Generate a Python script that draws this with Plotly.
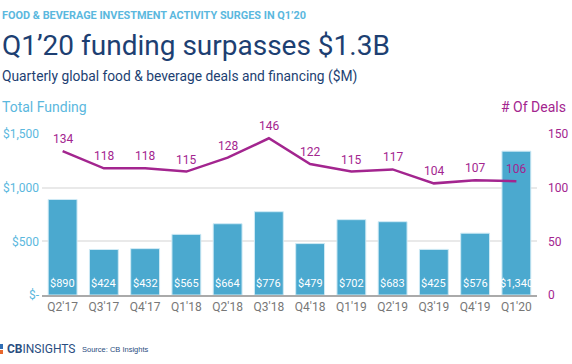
import plotly.graph_objects as go

quarters = ["Q2'17", "Q3'17", "Q4'17", "Q1'18", "Q2'18", "Q3'18",
            "Q4'18", "Q1'19", "Q2'19", "Q3'19", "Q4'19", "Q1'20"]
funding = [890, 424, 432, 565, 664, 776, 479, 702, 683, 425, 576, 1340]
deals = [134, 118, 118, 115, 128, 146, 122, 115, 117, 104, 107, 106]
left_ticks = [0, 500, 1000, 1500]
left_tick_text = ["$-", "$500", "$1,000", "$1,500"]
right_ticks = [0, 50, 100, 150]

W, H = 572, 364
L, R, T, B = 42, 35, 134, 69
PW = W - L - R
PH = H - T - B

def px(x):
    return (x - L) / PW

def py(y):
    return (H - B - y) / PH

BLUE = "#4BA9CF"
LBLUE = "#5BB8DE"
PURPLE = "#A3258F"
NAVY = "#1D3F72"
FONT = "Roboto"

fig = go.Figure()
fig.add_trace(go.Bar(
    x=quarters, y=funding, marker=dict(color=BLUE, line=dict(color="#cfeaf5", width=1)),
    width=0.7, hoverinfo="skip", showlegend=False,
))
fig.add_trace(go.Scatter(
    x=quarters, y=deals, yaxis="y2", mode="lines",
    line=dict(color=PURPLE, width=2.5),
    showlegend=False, hoverinfo="skip", cliponaxis=False,
))

annotations = []
for q, v in zip(quarters, funding):
    annotations.append(dict(x=q, y=0, xref="x", yref="y", text=f"${v:,}",
                            showarrow=False, yanchor="bottom", yshift=3,
                            font=dict(color="white", size=11, family=FONT)))
for q, d in zip(quarters, deals):
    annotations.append(dict(x=q, y=d, xref="x", yref="y2", text=str(d),
                            showarrow=False, yanchor="middle", yshift=12,
                            font=dict(color=PURPLE, size=12, family=FONT)))

annotations += [
    dict(x=px(0), y=py(15), xref="paper", yref="paper", xanchor="left", yanchor="middle",
         text="<b>FOOD &amp; BEVERAGE INVESTMENT ACTIVITY SURGES IN Q1’20</b>", showarrow=False,
         font=dict(color=LBLUE, size=10.9, family=FONT)),
    dict(x=px(0), y=py(45), xref="paper", yref="paper", xanchor="left", yanchor="middle",
         text="Q1’20 funding surpasses $1.3B", showarrow=False,
         font=dict(color=NAVY, size=28, family=FONT)),
    dict(x=px(0), y=py(76), xref="paper", yref="paper", xanchor="left", yanchor="middle",
         text="Quarterly global food &amp; beverage deals and financing ($M)", showarrow=False,
         font=dict(color=NAVY, size=13.8, family=FONT)),
    dict(x=px(0), y=py(107), xref="paper", yref="paper", xanchor="left", yanchor="middle",
         text="Total Funding", showarrow=False,
         font=dict(color=LBLUE, size=14, family=FONT)),
    dict(x=px(568), y=py(107), xref="paper", yref="paper", xanchor="right", yanchor="middle",
         text="# Of Deals", showarrow=False,
         font=dict(color=PURPLE, size=14, family=FONT)),
    dict(x=px(5), y=py(349), xref="paper", yref="paper", xanchor="left", yanchor="middle",
         text="<b>CB</b>INSIGHTS", showarrow=False,
         font=dict(color="#2A4D80", size=12, family=FONT)),
    dict(x=px(80), y=py(349), xref="paper", yref="paper", xanchor="left", yanchor="middle",
         text="Source: CB Insights", showarrow=False,
         font=dict(color="#2A4D80", size=7.5, family="Liberation Sans")),
]

shapes = [
    dict(type="rect", xref="paper", yref="paper", x0=px(0), x1=px(3), y0=py(349), y1=py(344),
         fillcolor="#2E6DB4", line=dict(width=0)),
    dict(type="rect", xref="paper", yref="paper", x0=px(0), x1=px(3), y0=py(354), y1=py(350),
         fillcolor="#E8672B", line=dict(width=0)),
]

fig.update_layout(
    width=W, height=H, margin=dict(l=L, r=R, t=T, b=B),
    paper_bgcolor="white", plot_bgcolor="white",
    font=dict(family=FONT),
    xaxis=dict(type="category", tickfont=dict(color="#777777", size=12, family=FONT),
               showgrid=False, showline=True, linecolor="#aaaaaa", linewidth=1.5,
               ticks="", range=[-0.5, 11.5]),
    yaxis=dict(range=[0, 1500], tickvals=left_ticks, ticktext=left_tick_text,
               tickfont=dict(color=LBLUE, size=12, family=FONT), showgrid=True,
               gridcolor="#e9e9e9", gridwidth=1.5, zeroline=False, showline=False,
               ticklabelstandoff=2, automargin=False),
    yaxis2=dict(range=[0, 150], tickvals=right_ticks, overlaying="y", side="right",
                tickfont=dict(color=PURPLE, size=12, family=FONT), showgrid=False,
                zeroline=False, showline=False, ticklabelstandoff=10, automargin=False),
    annotations=annotations, shapes=shapes,
)

fig.write_html("out.html", config={"displayModeBar": False},
               post_script="document.body.style.margin='0';")
